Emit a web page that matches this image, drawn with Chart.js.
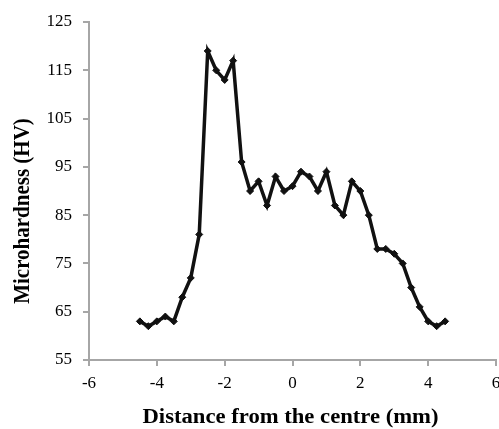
<!DOCTYPE html>
<html>
<head>
<meta charset="utf-8">
<script src="https://cdn.jsdelivr.net/npm/chart.js@4"></script>
<style>
html,body{margin:0;padding:0;background:#fff;overflow:hidden;width:499px;height:429px;}
#wrap{width:510px;height:429px;}
</style>
</head>
<body>
<div id="wrap"><canvas id="c" width="510" height="429"></canvas></div>
<script>
const distances = [-4.5,-4.25,-4,-3.75,-3.5,-3.25,-3,-2.75,-2.5,-2.25,-2,-1.75,-1.5,-1.25,-1,-0.75,-0.5,-0.25,0,0.25,0.5,0.75,1,1.25,1.5,1.75,2,2.25,2.5,2.75,3,3.25,3.5,3.75,4,4.25,4.5];
const hardness = [63,62,63,64,63,68,72,81,119,115,113,117,96,90,92,87,93,90,91,94,93,90,94,87,85,92,90,85,78,78,77,75,70,66,63,62,63];
const xTicks = [-6,-4,-2,0,2,4,6];
const yTicks = [55,65,75,85,95,105,115,125];
const xTitle = 'Distance from the centre (mm)';
const yTitle = 'Microhardness (HV)';

const axisGrey = '#a6a6a6';
const serif = '"Liberation Serif","Times New Roman",serif';
const tickFont = {family:serif, size:17};

const titlePlugin = {
  id:'axisTitles',
  afterDraw(chart){
    const ctx = chart.ctx;
    const area = chart.chartArea;
    ctx.save();
    ctx.fillStyle = '#000';
    // x title
    ctx.font = 'bold 20px ' + serif;
    const wx = ctx.measureText(xTitle).width;
    ctx.translate((area.left + area.right) / 2 - 2, 423);
    ctx.scale(296 / wx, 1);
    ctx.textAlign = 'center';
    ctx.textBaseline = 'alphabetic';
    ctx.fillText(xTitle, 0, 0);
    ctx.restore();
    // y title
    ctx.save();
    ctx.fillStyle = '#000';
    ctx.font = 'bold 21px ' + serif;
    ctx.translate(28.5, 211);
    ctx.rotate(-Math.PI / 2);
    ctx.scale(1, 1.12);
    ctx.textAlign = 'center';
    ctx.textBaseline = 'alphabetic';
    ctx.fillText(yTitle, 0, 0);
    ctx.restore();
  }
};

new Chart(document.getElementById('c'), {
  type:'line',
  data:{
    datasets:[{
      data: distances.map((d,i)=>({x:d,y:hardness[i]})),
      borderColor:'#111',
      backgroundColor:'#111',
      borderWidth:3.5,
      pointStyle:'rectRot',
      pointRadius:3.5,
      pointBorderWidth:1,
      tension:0,
      fill:false
    }]
  },
  plugins:[titlePlugin],
  options:{
    responsive:false,
    animation:false,
    layout:{padding:{top:22,right:14,left:0,bottom:0}},
    plugins:{legend:{display:false},tooltip:{enabled:false}},
    scales:{
      x:{
        type:'linear',
        min:-6,max:6,
        afterBuildTicks:(s)=>{s.ticks = xTicks.map(v=>({value:v}));},
        afterFit:(s)=>{s.height = 69;},
        grid:{drawOnChartArea:false,drawTicks:true,tickLength:6,color:axisGrey,lineWidth:2},
        border:{display:true,color:axisGrey,width:2},
        ticks:{color:'#000',font:tickFont,padding:7,maxRotation:0},
        title:{display:false}
      },
      y:{
        type:'linear',
        min:55,max:125,
        afterBuildTicks:(s)=>{s.ticks = yTicks.map(v=>({value:v}));},
        afterFit:(s)=>{s.width = 89;},
        grid:{drawOnChartArea:false,drawTicks:true,tickLength:6,color:axisGrey,lineWidth:2},
        border:{display:true,color:axisGrey,width:2},
        ticks:{color:'#000',font:tickFont,padding:11},
        title:{display:false}
      }
    }
  }
});
</script>
</body>
</html>
